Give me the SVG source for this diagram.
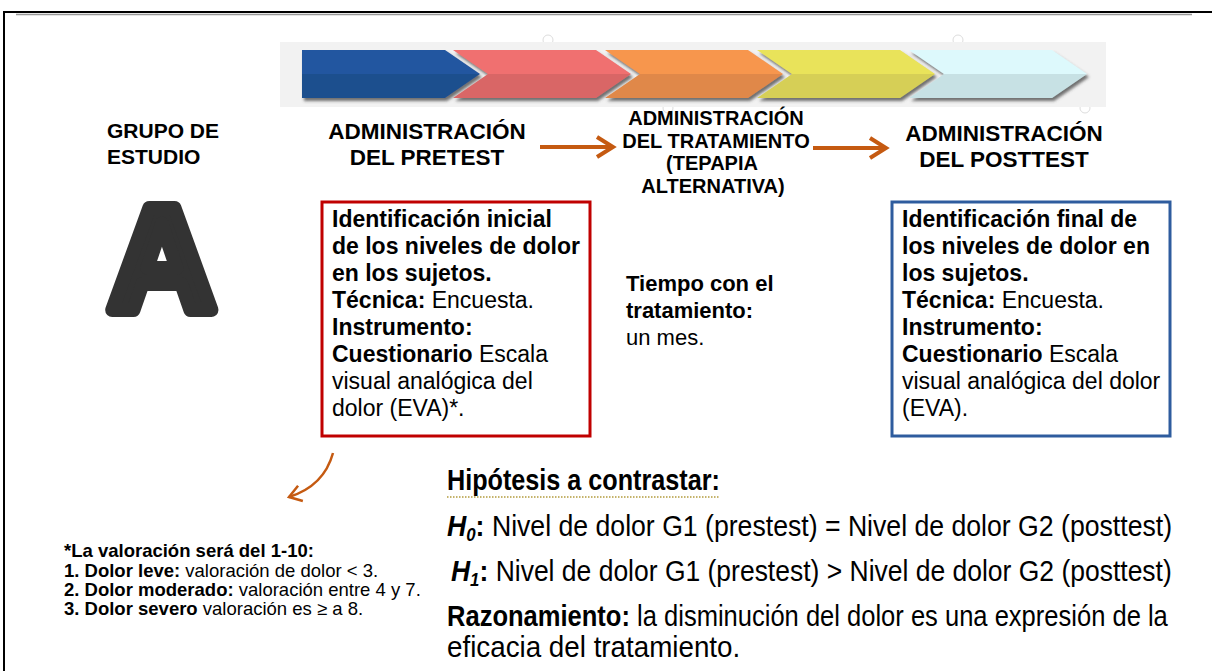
<svg xmlns="http://www.w3.org/2000/svg" width="1212" height="671" viewBox="0 0 1212 671">
<defs>
<style>
text{font-family:"Liberation Sans",Arial,sans-serif;fill:#000}
.b{font-weight:bold}
.t{font-size:22.5px;font-weight:bold;text-anchor:middle}
.bx{font-size:23px}
.fn{font-size:18.5px}
.hy{font-size:30px}
.conn{fill:none;stroke:#c55a11;stroke-width:4}
.chev{filter:url(#sh)}
</style>
<filter id="sh" x="-5%" y="-10%" width="115%" height="130%">
<feDropShadow dx="2" dy="3" stdDeviation="1.5" flood-color="#444" flood-opacity="0.75"/>
</filter>
<linearGradient id="gB" x1="0" y1="0" x2="0" y2="1"><stop offset="0.5" stop-color="#2356a0"/><stop offset="0.5" stop-color="#1f4f8e"/></linearGradient>
<linearGradient id="gR" x1="0" y1="0" x2="0" y2="1"><stop offset="0.5" stop-color="#f07070"/><stop offset="0.5" stop-color="#d96666"/></linearGradient>
<linearGradient id="gO" x1="0" y1="0" x2="0" y2="1"><stop offset="0.5" stop-color="#f7964e"/><stop offset="0.5" stop-color="#e08848"/></linearGradient>
<linearGradient id="gY" x1="0" y1="0" x2="0" y2="1"><stop offset="0.5" stop-color="#e9e35a"/><stop offset="0.5" stop-color="#d6cf56"/></linearGradient>
<linearGradient id="gC" x1="0" y1="0" x2="0" y2="1"><stop offset="0.5" stop-color="#ddf9fc"/><stop offset="0.5" stop-color="#c7e1e4"/></linearGradient>
<marker id="ah" markerUnits="userSpaceOnUse" markerWidth="24" markerHeight="26" refX="19" refY="12" orient="auto" viewBox="0 0 24 26">
<path d="M3,2 L19,12 L3,22" fill="none" stroke="#c55a11" stroke-width="4" stroke-linejoin="miter"/>
</marker>
<marker id="ah2" markerUnits="userSpaceOnUse" markerWidth="20" markerHeight="20" refX="15" refY="10" orient="auto" viewBox="0 0 20 20">
<path d="M3,2 L15,10 L3,18" fill="none" stroke="#c55a11" stroke-width="2.5"/>
</marker>
</defs>
<rect width="1212" height="671" fill="#fff"/>
<g id="frame">
<line x1="4" y1="12" x2="1212" y2="12" stroke="#000" stroke-width="2"/>
<line x1="16" y1="14.5" x2="1192" y2="14.5" stroke="#999" stroke-width="1.5"/>
<line x1="4" y1="11" x2="4" y2="671" stroke="#000" stroke-width="2"/>
</g>
<g id="chevrons">
<circle cx="548" cy="40" r="5" fill="none" stroke="#ddd"/>
<circle cx="958" cy="40" r="5" fill="none" stroke="#ddd"/>
<circle cx="668" cy="108" r="5" fill="none" stroke="#ddd"/>
<circle cx="1085" cy="108" r="5" fill="none" stroke="#ddd"/>
<rect x="280" y="42" width="826" height="65" fill="#f2f2f2"/>
<path class="chev" d="M302,50 H445 L480,74 L445,98 H302 Z" fill="url(#gB)"/>
<path class="chev" d="M453,50 H596 L631,74 L596,98 H453 L488,74 Z" fill="url(#gR)"/>
<path class="chev" d="M605,50 H748 L783,74 L748,98 H605 L640,74 Z" fill="url(#gO)"/>
<path class="chev" d="M757,50 H900 L935,74 L900,98 H757 L792,74 Z" fill="url(#gY)"/>
<path class="chev" d="M909,50 H1052 L1087,74 L1052,98 H909 L944,74 Z" fill="url(#gC)"/>
</g>
<g id="grupo">
<text class="b" x="107" y="138" font-size="21">GRUPO DE</text>
<text class="b" x="107" y="164" font-size="21">ESTUDIO</text>
<text x="162" y="310" font-size="148" font-weight="bold" text-anchor="middle" style="fill:#333" stroke="#333" stroke-width="14" stroke-linejoin="round">A</text>
</g>
<g id="pretest-title">
<text class="t" x="427" y="139">ADMINISTRACIÓN</text>
<text class="t" x="427" y="165">DEL PRETEST</text>
</g>
<g id="tratamiento-title">
<text class="t" x="716" y="125" style="font-size:20px">ADMINISTRACIÓN</text>
<text class="t" x="716" y="148" style="font-size:20px">DEL TRATAMIENTO</text>
<text class="t" x="712" y="170" style="font-size:20px">(TEPAPIA</text>
<text class="t" x="713" y="193" style="font-size:20px">ALTERNATIVA)</text>
</g>
<g id="posttest-title">
<text class="t" x="1004" y="141">ADMINISTRACIÓN</text>
<text class="t" x="1004" y="167">DEL POSTTEST</text>
</g>
<g id="pretest-box">
<rect x="322" y="202" width="268" height="234" fill="#fff" stroke="#c00000" stroke-width="3"/>
<text class="bx b" x="332" y="227">Identificación inicial</text>
<text class="bx b" x="332" y="254">de los niveles de dolor</text>
<text class="bx b" x="332" y="281">en los sujetos.</text>
<text class="bx" x="332" y="308"><tspan class="b">Técnica:</tspan> Encuesta.</text>
<text class="bx b" x="332" y="335">Instrumento:</text>
<text class="bx" x="332" y="362"><tspan class="b">Cuestionario</tspan> Escala</text>
<text class="bx" x="332" y="389">visual analógica del</text>
<text class="bx" x="332" y="416">dolor (EVA)*.</text>
</g>
<g id="tiempo">
<text class="b" x="626" y="291" font-size="22">Tiempo con el</text>
<text class="b" x="626" y="318" font-size="22">tratamiento:</text>
<text x="626" y="345" font-size="22">un mes.</text>
</g>
<g id="posttest-box">
<rect x="892" y="202" width="278" height="234" fill="#fff" stroke="#2e5c9e" stroke-width="3"/>
<text class="bx b" x="902" y="227">Identificación final de</text>
<text class="bx b" x="902" y="254">los niveles de dolor en</text>
<text class="bx b" x="902" y="281">los sujetos.</text>
<text class="bx" x="902" y="308"><tspan class="b">Técnica:</tspan> Encuesta.</text>
<text class="bx b" x="902" y="335">Instrumento:</text>
<text class="bx" x="902" y="362"><tspan class="b">Cuestionario</tspan> Escala</text>
<text class="bx" x="902" y="389">visual analógica del dolor</text>
<text class="bx" x="902" y="416">(EVA).</text>
</g>
<g id="connectors">
<path class="conn" d="M540,147 H613" marker-end="url(#ah)"/>
<path class="conn" d="M813,148 H886" marker-end="url(#ah)"/>
<path class="conn" d="M333,453 Q324,486 289,497" style="stroke-width:2.5" marker-end="url(#ah2)"/>
</g>
<g id="footnote">
<text class="fn b" x="64" y="557">*La valoración será del 1-10:</text>
<text class="fn" x="64" y="577"><tspan class="b">1. Dolor leve:</tspan> valoración de dolor &lt; 3.</text>
<text class="fn" x="64" y="596"><tspan class="b">2. Dolor moderado:</tspan> valoración entre 4 y 7.</text>
<text class="fn" x="64" y="615"><tspan class="b">3. Dolor severo</tspan> valoración es ≥ a 8.</text>
</g>
<g id="hipotesis">
<text class="hy b" transform="translate(447 490) scale(0.85 1)" x="0" y="0" textLength="321" lengthAdjust="spacingAndGlyphs">Hipótesis a contrastar:</text>
<line x1="447" y1="497" x2="720" y2="497" stroke="#b39a3c" stroke-width="1.5" stroke-dasharray="1.5 1.5"/>
<text class="hy" transform="translate(447 536) scale(0.85 1)" x="0" y="0" textLength="853" lengthAdjust="spacingAndGlyphs"><tspan class="b" font-style="italic">H</tspan><tspan class="b" font-style="italic" font-size="19" dy="5">0</tspan><tspan class="b" dy="-5">:</tspan> Nivel de dolor G1 (prestest) = Nivel de dolor G2 (posttest)</text>
<text class="hy" transform="translate(451 581) scale(0.85 1)" x="0" y="0" textLength="848" lengthAdjust="spacingAndGlyphs"><tspan class="b" font-style="italic">H</tspan><tspan class="b" font-style="italic" font-size="19" dy="5">1</tspan><tspan class="b" dy="-5">:</tspan> Nivel de dolor G1 (prestest) &gt; Nivel de dolor G2 (posttest)</text>
<text class="hy" transform="translate(447 626) scale(0.85 1)" x="0" y="0" textLength="848" lengthAdjust="spacingAndGlyphs"><tspan class="b">Razonamiento:</tspan> la disminución del dolor es una expresión de la</text>
<text class="hy" transform="translate(447 657) scale(0.85 1)" x="0" y="0" textLength="345" lengthAdjust="spacingAndGlyphs">eficacia del tratamiento.</text>
</g>
</svg>
